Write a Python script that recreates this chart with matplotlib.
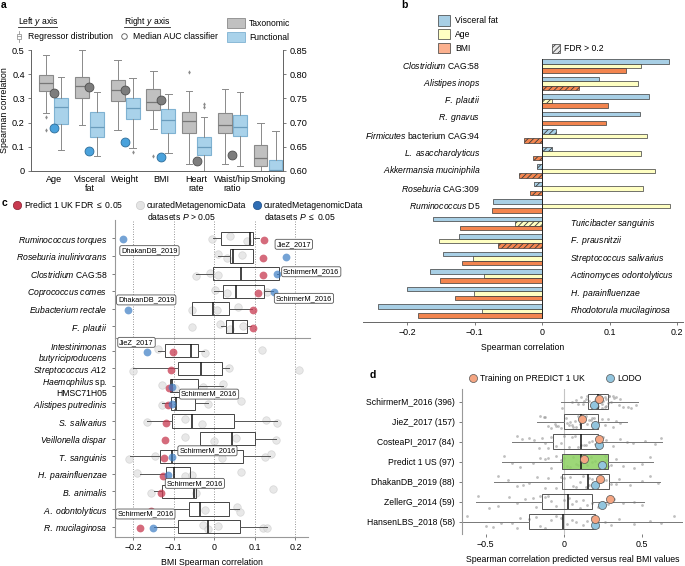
import numpy as np
import matplotlib
matplotlib.use('Agg')
import matplotlib.pyplot as plt
from matplotlib.patches import Rectangle
from matplotlib.lines import Line2D

plt.rcParams['font.family'] = ['Liberation Sans', 'DejaVu Sans']
plt.rcParams['mathtext.fontset'] = 'custom'
plt.rcParams['mathtext.rm'] = 'Liberation Sans'
plt.rcParams['mathtext.it'] = 'Liberation Sans:italic'
plt.rcParams['mathtext.bf'] = 'Liberation Sans:bold'
plt.rcParams['hatch.linewidth'] = 0.6
plt.rcParams['axes.unicode_minus'] = True

# ---------------- panel a data ----------------
a_cats = ['Age', 'Visceral\nfat', 'Weight', 'BMI', 'Heart\nrate', 'Waist/hip\nratio', 'Smoking']
tax_whislo = [0.24, 0.19, 0.17, 0.175, 0.03, 0.03, 0.0]
tax_q1 = [0.33, 0.30, 0.29, 0.25, 0.158, 0.155, 0.02]
tax_med = [0.365, 0.35, 0.333, 0.285, 0.205, 0.19, 0.055]
tax_q3 = [0.395, 0.39, 0.378, 0.34, 0.245, 0.24, 0.107]
tax_whishi = [0.48, 0.50, 0.46, 0.415, 0.33, 0.34, 0.20]
tax_fliers = [[0.225, 0.168], [], [], [0.06], [0.41], [], []]
func_whislo = [0.085, 0.06, 0.093, 0.073, 0.0, 0.02, 0.0]
func_q1 = [0.195, 0.14, 0.215, 0.155, 0.065, 0.145, 0.0]
func_med = [0.265, 0.18, 0.262, 0.21, 0.10, 0.18, 0.005]
func_q3 = [0.30, 0.245, 0.30, 0.255, 0.14, 0.233, 0.045]
func_whishi = [0.39, 0.325, 0.385, 0.32, 0.225, 0.325, 0.165]
func_fliers = [[], [], [0.078], [], [0.265, 0.275], [], []]
tax_auc = [0.7616, 0.7727, 0.767, 0.7464, 0.6207, 0.6325, np.nan]
func_auc = [0.689, 0.6407, 0.66, 0.629, np.nan, np.nan, np.nan]

# ---------------- panel b data ----------------
b_species = [r'$\it{Clostridium}$ CAG:58', r'$\it{Alistipes\ inops}$', r'$\it{F.\ plautii}$',
             r'$\it{R.\ gnavus}$', r'$\it{Firmicutes}$ bacterium CAG:94', r'$\it{L.\ asaccharolyticus}$',
             r'$\it{Akkermansia\ muciniphila}$', r'$\it{Roseburia}$ CAG:309', r'$\it{Ruminococcus}$ D5',
             r'$\it{Turicibacter\ sanguinis}$', r'$\it{F.\ prausnitzii}$', r'$\it{Streptococcus\ salivarius}$',
             r'$\it{Actinomyces\ odontolyticus}$', r'$\it{H.\ parainfluenzae}$', r'$\it{Rhodotorula\ mucilaginosa}$']
b_visceral = [0.188, 0.084, 0.159, 0.145, 0.021, 0.015, -0.0075, -0.012, -0.073,
              -0.162, -0.123, -0.147, -0.167, -0.200, -0.244]
b_age = [0.146, 0.142, 0.015, 0.0, 0.156, 0.147, 0.168, 0.150, 0.190,
         -0.041, -0.153, -0.102, -0.087, -0.101, -0.090]
b_bmi = [0.124, 0.055, 0.098, 0.094, -0.027, -0.013, -0.035, -0.018, -0.075,
         -0.122, -0.066, -0.119, -0.151, -0.129, -0.185]
b_vf_ns = [0, 0, 0, 0, 1, 1, 1, 1, 0, 0, 0, 0, 0, 0, 0]
b_age_ns = [0, 0, 1, 0, 0, 0, 0, 0, 0, 1, 0, 0, 0, 0, 0]
b_bmi_ns = [0, 1, 0, 0, 1, 1, 1, 1, 0, 0, 1, 0, 0, 0, 0]

# ---------------- panel c data ----------------
c_species = [r'$\it{Ruminococcus\ torques}$', r'$\it{Roseburia\ inulinivorans}$', r'$\it{Clostridium}$ CAG:58',
             r'$\it{Coprococcus\ comes}$', r'$\it{Eubacterium\ rectale}$', r'$\it{F.\ plautii}$',
             r'$\it{Intestinimonas}$' + '\n' + r'$\it{butyriciproducens}$', r'$\it{Streptococcus\ A12}$',
             r'$\it{Haemophilus}$ sp.' + '\n' + 'HMSC71H05', r'$\it{Alistipes\ putredinis}$',
             r'$\it{S.\ salivarius}$', r'$\it{Veillonella\ dispar}$', r'$\it{T.\ sanguinis}$',
             r'$\it{H.\ parainfluenzae}$', r'$\it{B.\ animalis}$', r'$\it{A.\ odontolyticus}$',
             r'$\it{R.\ mucilaginosa}$']
c_whislo = [-0.0025, 0.01, -0.045, 0.0, -0.054, 0.016, -0.14, -0.20, -0.11, -0.13, -0.165, -0.035,
            -0.208, -0.184, -0.15, -0.155, -0.15]
c_q1 = [0.0165, 0.039, -0.004, 0.022, -0.054, 0.028, -0.122, -0.09, -0.11, -0.108, -0.104, -0.035,
        -0.134, -0.12, -0.13, -0.062, -0.089]
c_med = [0.088, 0.047, 0.066, 0.053, -0.004, 0.047, -0.058, -0.034, -0.105, -0.095, -0.056, 0.044,
         -0.105, -0.10, -0.05, -0.035, -0.015]
c_q3 = [0.095, 0.095, 0.16, 0.123, 0.037, 0.08, -0.04, 0.02, -0.041, -0.048, 0.049, 0.10,
        0.07, -0.059, -0.044, 0.035, 0.063]
c_whishi = [0.11, 0.095, 0.154, 0.145, 0.092, 0.09, -0.025, 0.035, 0.022, -0.015, 0.154, 0.151,
            0.137, -0.059, -0.044, 0.06, 0.129]
c_others = [[-0.005, 0.038, 0.08], [0.01, 0.03, 0.068], [-0.045, -0.01, 0.01],
            [0.002, 0.03, 0.129], [-0.056, 0.006, 0.059], [-0.056, 0.014, 0.039, 0.07],
            [-0.14, -0.023, 0.117], [-0.2, 0.035, 0.21], [-0.129, -0.097, -0.027, 0.022],
            [-0.13, -0.015, 0.065], [-0.167, -0.072, -0.031, 0.127, 0.154],
            [-0.072, 0.0, 0.053, 0.152], [-0.21, -0.146, 0.018, 0.125, 0.139],
            [-0.19, -0.072, -0.054, 0.066], [-0.155, -0.044, 0.144], [-0.023, 0.055, 0.063],
            [-0.027, -0.015, 0.01, 0.119, 0.13]]
c_uk = [0.123, 0.119, 0.121, 0.108, 0.095, 0.095, -0.103, -0.108, -0.111, -0.115, -0.12, -0.121,
        -0.123, -0.127, -0.132, -0.155, -0.184]
c_sig_row = [0, 1, 2, 3, 4, 6, 8, 9, 12, 13, 16]
c_sig_val = [-0.225, 0.176, 0.154, 0.148, -0.214, -0.165, -0.105, -0.104, -0.104, -0.115, -0.151]
c_lab_text = ['DhakanDB_2019', 'JieZ_2017', 'SchirmerM_2016', 'SchirmerM_2016', 'DhakanDB_2019',
              'JieZ_2017', 'SchirmerM_2016', 'SchirmerM_2016', 'SchirmerM_2016', 'SchirmerM_2016']
c_lab_x = [-0.16, 0.196, 0.239, 0.221, -0.168, -0.192, -0.013, -0.017, -0.048, -0.17]
c_lab_y = [0.70, 0.34, 1.90, 3.41, 3.50, 5.91, 8.85, 12.07, 13.92, 15.66]

# ---------------- panel d data ----------------
d_names = ['SchirmerM_2016 (396)', 'JieZ_2017 (157)', 'CosteaPI_2017 (84)', 'Predict 1 US (97)',
           'DhakanDB_2019 (88)', 'ZellerG_2014 (59)', 'HansenLBS_2018 (58)']
d_whislo = [-0.019, -0.174, -0.334, -0.394, -0.445, -0.564, -0.66]
d_q1 = [0.155, 0.002, -0.068, -0.011, -0.011, -0.143, -0.223]
d_med = [0.219, 0.106, 0.106, 0.109, 0.151, 0.023, -0.009]
d_q3 = [0.283, 0.215, 0.219, 0.283, 0.287, 0.181, 0.198]
d_whishi = [0.474, 0.40, 0.628, 0.566, 0.613, 0.513, 0.80]
d_train = [0.226, 0.117, 0.223, 0.13, 0.23, 0.294, 0.20]
d_lodo = [0.191, 0.198, 0.223, 0.24, 0.198, 0.243, 0.20]
d_points = [
    [0.31, 0.18, 0.26, 0.09, 0.22, 0.35, 0.14, 0.27, 0.20, 0.41, 0.16, 0.24, 0.05, 0.29, 0.19, 0.33,
     0.12, 0.23, 0.46, 0.27, 0.17, 0.21, 0.38, 0.25, -0.01, 0.30, 0.15, 0.28, 0.11, 0.24, 0.32, 0.19,
     0.36, 0.22, 0.08, 0.26, 0.13, 0.43, 0.20, 0.29],
    [-0.15, 0.02, 0.11, -0.06, 0.18, 0.05, 0.24, -0.10, 0.13, 0.31, 0.07, -0.02, 0.20, 0.09, 0.36,
     -0.12, 0.15, 0.01, 0.26, 0.12, -0.04, 0.17, 0.08, 0.33, -0.08, 0.04, 0.14, 0.22, -0.13, 0.10,
     0.19, 0.03, 0.28, -0.05, 0.16, 0.06],
    [-0.30, -0.12, 0.05, 0.20, -0.22, 0.13, 0.36, -0.05, 0.27, 0.09, 0.52, -0.16, 0.16, 0.0, 0.44,
     -0.08, 0.23, 0.62, 0.11, -0.27, 0.31, -0.19, 0.03, 0.18, -0.10, 0.40, 0.07, -0.02, 0.25, 0.58,
     -0.14, 0.14],
    [-0.38, -0.20, 0.06, 0.22, -0.10, 0.15, 0.33, 0.02, 0.27, -0.28, 0.10, 0.45, 0.18, -0.05, 0.24,
     0.55, 0.08, -0.15, 0.30, 0.13, 0.38, -0.02, 0.04, 0.20, -0.08, 0.12, 0.26, -0.33, 0.17, 0.50,
     0.0, 0.09, -0.12, 0.28],
    [-0.42, -0.22, 0.04, 0.20, -0.10, 0.16, 0.35, -0.30, 0.27, 0.08, 0.50, -0.05, 0.23, 0.12, 0.60,
     -0.17, 0.30, 0.0, 0.42, 0.18, 0.06, -0.36, 0.14, 0.25, -0.12, 0.10, 0.55, 0.21, -0.02, 0.33,
     0.16, -0.26],
    [-0.55, -0.30, -0.12, 0.05, -0.20, 0.15, 0.32, -0.42, 0.0, 0.22, -0.08, 0.10, 0.45, -0.15, 0.18,
     -0.35, 0.28, 0.03, 0.50, -0.25, -0.05, 0.12, -0.18, 0.08, -0.48, 0.25, -0.10, 0.38],
    [-0.62, -0.40, -0.18, 0.02, -0.28, 0.12, 0.35, -0.50, -0.08, 0.22, 0.55, -0.12, 0.08, 0.70,
     -0.33, 0.18, 0.45, -0.02, 0.30, -0.22, -0.15, 0.05, -0.45, 0.15, -0.30, 0.26, -0.05, 0.62],
]

# ---------------- layout helpers ----------------
W, H = 685, 566
FS = 6.2
fig = plt.figure(figsize=(W / 100, H / 100), dpi=100)


def ax_px(l, t, r, b):
    return fig.add_axes([l / W, 1 - b / H, (r - l) / W, (b - t) / H])


def fxy(x, y):
    return x / W, 1 - y / H


def ftext(x, y, s, **kw):
    kw.setdefault('fontsize', FS)
    kw.setdefault('va', 'center')
    return fig.text(*fxy(x, y), s, **kw)


def frect(x0, y0, x1, y1, **kw):
    r = Rectangle(fxy(x0, y1), (x1 - x0) / W, (y1 - y0) / H, transform=fig.transFigure, **kw)
    fig.add_artist(r)


def fline(xs, ys, **kw):
    fig.add_artist(Line2D([x / W for x in xs], [1 - y / H for y in ys], transform=fig.transFigure, **kw))


def fdot(x, y, **kw):
    fig.add_artist(Line2D([x / W], [1 - y / H], transform=fig.transFigure, marker='o', linestyle='none', **kw))


def mkstats(lo, q1, med, q3, hi, fl=None):
    if fl is None:
        fl = [[] for _ in lo]
    return [dict(whislo=a, q1=b, med=c, q3=d, whishi=e, fliers=f)
            for a, b, c, d, e, f in zip(lo, q1, med, q3, hi, fl)]


SPC = '#666666'

# ================= panel a =================
axa = ax_px(31, 50, 283, 171)
xa = np.arange(len(a_cats))
tax_col, tax_edge = '#c0c0c0', '#8a8a8a'
fun_col, fun_edge = '#a9d2ea', '#7fb2d2'
axa.bxp(mkstats(tax_whislo, tax_q1, tax_med, tax_q3, tax_whishi, tax_fliers), positions=xa - 0.21,
        widths=0.39, patch_artist=True, capwidths=0.18, manage_ticks=False,
        boxprops=dict(facecolor=tax_col, edgecolor=tax_edge, linewidth=0.8),
        medianprops=dict(color='#777777', linewidth=0.9),
        whiskerprops=dict(color=tax_edge, linewidth=0.7), capprops=dict(color=tax_edge, linewidth=0.7),
        flierprops=dict(marker='d', markersize=2.2, markerfacecolor=tax_edge, markeredgecolor='none'))
axa.bxp(mkstats(func_whislo, func_q1, func_med, func_q3, func_whishi, func_fliers), positions=xa + 0.21,
        widths=0.39, patch_artist=True, capwidths=0.18, manage_ticks=False,
        boxprops=dict(facecolor=fun_col, edgecolor=fun_edge, linewidth=0.8),
        medianprops=dict(color='#6a9cbc', linewidth=0.9),
        whiskerprops=dict(color=tax_edge, linewidth=0.7), capprops=dict(color=tax_edge, linewidth=0.7),
        flierprops=dict(marker='d', markersize=2.2, markerfacecolor=tax_edge, markeredgecolor='none'))
axa.set_xlim(-0.637, 6.42)
axa.set_ylim(0, 0.5)
axa.set_yticks([0, 0.1, 0.2, 0.3, 0.4, 0.5])
axa.set_yticklabels(['0', '0.1', '0.2', '0.3', '0.4', '0.5'])
axa.set_xticks(xa)
axa.set_xticklabels(a_cats, fontsize=FS + 0.3, linespacing=1.0)
axa.tick_params(axis='x', length=0, pad=3)
axa.tick_params(axis='y', labelsize=FS + 0.4, length=2.5, width=0.6, pad=2, color=SPC)
axa.set_ylabel('Spearman correlation', fontsize=FS + 0.2, labelpad=2)
axa2 = axa.twinx()
axa2.set_ylim(0.60, 0.85)
axa2.set_yticks([0.60, 0.65, 0.70, 0.75, 0.80, 0.85])
axa2.set_yticklabels(['0.60', '0.65', '0.70', '0.75', '0.80', '0.85'])
axa2.tick_params(axis='y', labelsize=FS + 0.4, length=2.5, width=0.6, pad=2, color=SPC)
axa2.plot(xa, tax_auc, 'o', ms=6.4, mfc='#7d7d7d', mec='#4f4f4f', mew=0.6, zorder=5)
axa2.plot(xa, func_auc, 'o', ms=6.4, mfc='#4aa2dc', mec='#2c6c98', mew=0.6, zorder=5)
for ax in (axa, axa2):
    ax.spines['top'].set_visible(False)
    for s in ('left', 'right', 'bottom'):
        ax.spines[s].set_color(SPC)
        ax.spines[s].set_linewidth(0.7)

# legend a
ftext(17.7, 22, r'Left $\it{y}$ axis')
fline([17.7, 57], [26.8, 26.8], color='#222222', lw=0.6)
ftext(124, 22, r'Right $\it{y}$ axis')
fline([124, 169.5], [26.8, 26.8], color='#222222', lw=0.6)
frect(16.8, 33.5, 21.2, 39.0, facecolor='white', edgecolor='#999999', lw=0.6)
fline([19, 19], [31, 33.5], color='#999999', lw=0.6)
fline([19, 19], [39, 41.5], color='#999999', lw=0.6)
fline([16.8, 21.2], [36.2, 36.2], color='#999999', lw=0.6)
ftext(28, 36.3, 'Regressor distribution')
fdot(124, 36.3, ms=4, mfc='white', mec='#555555', mew=0.6)
ftext(133, 36.3, 'Median AUC classifier')
frect(227, 18, 245, 28, facecolor=tax_col, edgecolor=tax_edge, lw=0.6)
ftext(249, 23, 'Taxonomic')
frect(227, 32, 245, 41.5, facecolor=fun_col, edgecolor=fun_edge, lw=0.6)
ftext(249, 37, 'Functional')

# ================= panel b =================
axb = ax_px(363, 57.2, 683, 322)
yb = np.arange(len(b_species))
bh = 0.25
b_series = [(b_visceral, b_vf_ns, '#a8cfe5', -bh), (b_age, b_age_ns, '#ffffc2', 0.0),
            (b_bmi, b_bmi_ns, '#f3854f', bh)]
for vals, ns, col, off in b_series:
    for i in range(len(vals)):
        if vals[i] == 0:
            continue
        axb.barh(yb[i] + off, vals[i], height=bh, color=col, edgecolor='#3a3a3a', linewidth=0.5,
                 hatch='//////' if ns[i] else None)
axb.plot([0, 0], [-0.42, 14.42], color='#222222', lw=0.7)
for i, lab in enumerate(b_species):
    if i < 9:
        axb.text(-0.092, yb[i], lab, ha='right', va='center', fontsize=FS)
    else:
        axb.text(0.041, yb[i], lab, ha='left', va='center', fontsize=FS)
axb.set_xlim(-0.266, 0.209)
axb.set_ylim(14.63, -0.5)
axb.set_yticks([])
axb.set_xticks([-0.2, -0.1, 0, 0.1, 0.2])
axb.set_xticklabels(['\u22120.2', '\u22120.1', '0', '0.1', '0.2'])
axb.tick_params(axis='x', labelsize=FS + 0.2, length=2.5, width=0.6, pad=2, color=SPC)
axb.set_xlabel('Spearman correlation', fontsize=FS, labelpad=4)
for s in ('top', 'left', 'right'):
    axb.spines[s].set_visible(False)
axb.spines['bottom'].set_color(SPC)
axb.spines['bottom'].set_linewidth(0.7)

# legend b
frect(438.3, 15, 450, 25.7, facecolor='#a8cfe5', edgecolor='#3a3a3a', lw=0.5)
ftext(455, 20.3, 'Visceral fat')
frect(438.3, 29.3, 450, 39.3, facecolor='#ffffc2', edgecolor='#3a3a3a', lw=0.5)
ftext(455, 34.3, 'Age')
frect(438.3, 43.3, 450, 53.3, facecolor='#fbb08e', edgecolor='#3a3a3a', lw=0.5)
ftext(455, 48.3, 'BMI')
frect(551.7, 44.3, 560, 53.3, facecolor='#e8e8e8', edgecolor='#3a3a3a', lw=0.5, hatch='//////')
ftext(563.5, 48.3, 'FDR > 0.2')

# ================= panel c =================
axc = ax_px(115, 220, 308, 536.7)
yc = np.array([i if i < 6 else i + 0.38 for i in range(len(c_species))])
for x in (-0.2, -0.1, 0, 0.1, 0.2):
    axc.axvline(x, color='#888888', lw=0.6, ls=(0, (1.2, 1.8)), zorder=0)
jit = [0.06, -0.12, 0.14, -0.04, 0.10]
for i, vals in enumerate(c_others):
    offs = [jit[(k + i) % 5] for k in range(len(vals))]
    axc.plot(vals, yc[i] + np.array(offs), 'o', ms=5.4, mfc='#dcdcdc', mec='#c8c8c8', mew=0.5,
             alpha=0.65, zorder=1)
axc.bxp(mkstats(c_whislo, c_q1, c_med, c_q3, c_whishi), positions=yc, widths=0.75,
        orientation='horizontal', patch_artist=True, showcaps=False, showfliers=False, manage_ticks=False,
        boxprops=dict(facecolor='none', edgecolor='#444444', linewidth=0.7),
        medianprops=dict(color='#111111', linewidth=1.1),
        whiskerprops=dict(color='#555555', linewidth=0.7), zorder=2)
axc.plot(c_uk, yc + 0.1, 'o', ms=5.6, mfc='#c83a50', mec='none', alpha=0.75, zorder=3)
axc.plot(c_sig_val, yc[c_sig_row] + 0.05, 'o', ms=5.6, mfc='#3b7cc4', mec='none', alpha=0.7, zorder=3)
for t, x, y in zip(c_lab_text, c_lab_x, c_lab_y):
    axc.text(x, y, t, ha='center', va='center', fontsize=5.3, zorder=5, clip_on=False,
             bbox=dict(boxstyle='round,pad=0.2,rounding_size=0.25', fc='white', ec='#555555', lw=0.6))
axc.plot([-0.245, 0.235], [5.68, 5.68], color='#999999', lw=0.8, zorder=1, clip_on=False)
axc.set_xlim(-0.245, 0.231)
axc.set_ylim(16.95, -1.04)
axc.set_yticks(yc)
axc.set_yticklabels(c_species, fontsize=FS, linespacing=1.05)
axc.set_xticks([-0.2, -0.1, 0, 0.1, 0.2])
axc.set_xticklabels(['\u22120.2', '\u22120.1', '0', '0.1', '0.2'])
axc.tick_params(axis='x', labelsize=FS + 0.2, length=2.5, width=0.6, pad=2, color=SPC)
axc.tick_params(axis='y', length=2.5, width=0.6, pad=3, color=SPC)
axc.set_xlabel('BMI Spearman correlation', fontsize=FS + 0.1, labelpad=4)
for s in ('top', 'right'):
    axc.spines[s].set_visible(False)
for s in ('left', 'bottom'):
    axc.spines[s].set_color('#999999')
    axc.spines[s].set_linewidth(0.8)

# legend c
fdot(17, 205, ms=6, mfc='#c83a50', mec='#8a1f30', mew=0.5)
ftext(24, 205, r'Predict 1 UK FDR $\leq$ 0.05')
fdot(140, 205, ms=6, mfc='#e4e4e4', mec='#cccccc', mew=0.5)
ftext(147, 205, 'curatedMetagenomicData')
ftext(147, 216.5, r'datasets $\it{P}$ > 0.05')
fdot(257, 205, ms=6, mfc='#2f6db3', mec='#1d4f8a', mew=0.5)
ftext(264, 205, 'curatedMetagenomicData')
ftext(264, 216.5, r'datasets $\it{P}$ $\leq$ 0.05')

# ================= panel d =================
axd = ax_px(462.3, 389.3, 683, 534)
yd = np.arange(len(d_names))
axd.axvline(0, color='#c4c4c4', lw=0.8, zorder=0)
for i, vals in enumerate(d_points):
    n = len(vals)
    offs = ((np.arange(n) * 7) % 13 / 12.0 - 0.5) * 0.6
    axd.plot(vals, yd[i] + offs, 'o', ms=2.0, mfc='#8c8c8c', mec='none', alpha=0.55, zorder=1)
bpd = axd.bxp(mkstats(d_whislo, d_q1, d_med, d_q3, d_whishi), positions=yd, widths=0.75,
              orientation='horizontal', patch_artist=True, showcaps=False, showfliers=False,
              manage_ticks=False,
              boxprops=dict(facecolor='none', edgecolor='#555555', linewidth=0.7),
              medianprops=dict(color='#111111', linewidth=1.1),
              whiskerprops=dict(color='#777777', linewidth=0.7), zorder=2)
bpd['boxes'][3].set_facecolor((0.55, 0.82, 0.38, 0.85))
axd.plot(d_train, yd - 0.15, 'o', ms=5.8, mfc='#f4a582', mec='#555555', mew=0.5, zorder=4)
axd.plot(d_lodo, yd + 0.15, 'o', ms=5.8, mfc='#92c5de', mec='#555555', mew=0.5, zorder=3)
axd.set_xlim(-0.649, 0.76)
axd.set_ylim(6.615, -0.62)
axd.set_yticks(yd)
axd.set_yticklabels(d_names, fontsize=FS)
axd.set_xticks([-0.5, 0, 0.5])
axd.set_xticklabels(['\u22120.5', '0', '0.5'])
axd.tick_params(axis='x', labelsize=FS + 0.2, length=2.5, width=0.6, pad=2, color=SPC)
axd.tick_params(axis='y', length=2.5, width=0.6, pad=3, color=SPC)
axd.set_xlabel('Spearman correlation predicted versus real BMI values', fontsize=FS + 0.1, labelpad=4)
for s in ('top', 'right', 'bottom'):
    axd.spines[s].set_visible(False)
axd.spines['left'].set_color('#999999')
axd.spines['left'].set_linewidth(0.8)

# legend d
fdot(473, 378.3, ms=5.8, mfc='#f4a582', mec='#555555', mew=0.5)
ftext(480, 378.3, 'Training on PREDICT 1 UK')
fdot(610, 378.3, ms=5.8, mfc='#92c5de', mec='#555555', mew=0.5)
ftext(617, 378.3, 'LODO')

# panel letters
for lt, x, y in (('a', 0.5, 5), ('b', 401, 5), ('c', 2, 203), ('d', 370, 375)):
    ftext(x, y, lt, fontsize=7.5, fontweight='bold')

fig.savefig('out.png', dpi=100)
